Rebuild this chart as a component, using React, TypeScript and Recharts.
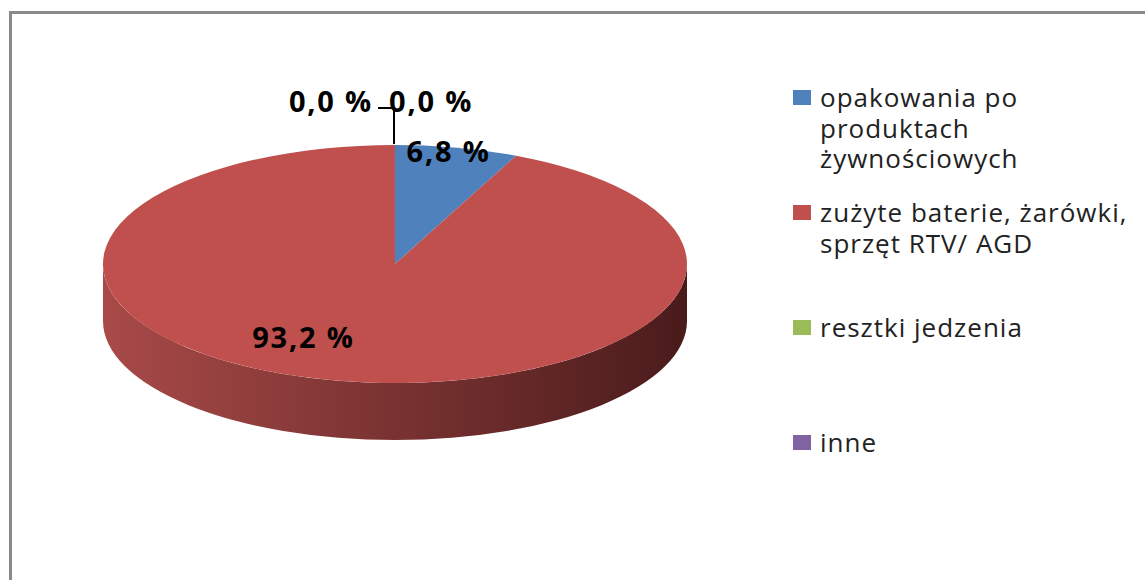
import { PieChart, Pie, Cell, Legend } from "recharts";

const CATEGORIES = [
  "opakowania po produktach żywnościowych",
  "zużyte baterie, żarówki, sprzęt RTV/ AGD",
  "resztki jedzenia",
  "inne",
];
const SHARES = [6.8, 93.2, 0, 0];

const COLORS = ["#4F81BD", "#C0504D", "#9BBB59", "#8064A2"];
const SIDE_STOPS = [
  ["#3F6A9E", "#213A57"],
  ["#A84A48", "#4A1B1B"],
  ["#7E9A48", "#3F4D24"],
  ["#68508A", "#352848"],
];

const data = CATEGORIES.map((name, i) => ({ name, value: SHARES[i] }));

// pie geometry: ellipse made from the circular pie
const CX = 395;
const CY = 264;
const RX = 292;
const RY = 119;
const TILT = RY / RX;
const DEPTH = 57;
const RAD = Math.PI / 180;

const FONT = "'Open Sans', sans-serif";

function pt(cx: number, cy: number, r: number, t: number) {
  return [cx + r * Math.cos(t), cy + r * TILT * Math.sin(t)];
}

function TopShape(props: any) {
  const { cx, cy, outerRadius: r, startAngle, endAngle, fill } = props;
  const t1 = -startAngle * RAD;
  const t2 = -endAngle * RAD;
  const span = t2 - t1;
  if (span < 1e-6) return <g />;
  if (span >= 2 * Math.PI - 1e-6) {
    return <ellipse cx={cx} cy={cy} rx={r} ry={r * TILT} fill={fill} />;
  }
  const [x1, y1] = pt(cx, cy, r, t1);
  const [x2, y2] = pt(cx, cy, r, t2);
  const d = `M${cx},${cy} L${x1},${y1} A${r},${r * TILT} 0 ${span > Math.PI ? 1 : 0} 1 ${x2},${y2} Z`;
  return <path d={d} fill={fill} />;
}

function SideShape(props: any) {
  const { cx, cy, outerRadius: r, startAngle, endAngle, index } = props;
  const t1 = -startAngle * RAD;
  const t2 = -endAngle * RAD;
  if (t2 - t1 < 1e-6) return <g />;
  const segs: number[][] = [];
  for (let k = -1; k <= 1; k++) {
    const a = Math.max(t1, 2 * Math.PI * k);
    const b = Math.min(t2, 2 * Math.PI * k + Math.PI);
    if (b - a > 1e-6) segs.push([a, b]);
  }
  const ry = r * TILT;
  return (
    <g>
      {segs.map(([a, b], i) => {
        const [x1, y1] = pt(cx, cy, r, a);
        const [x2, y2] = pt(cx, cy, r, b);
        const large = b - a > Math.PI ? 1 : 0;
        const d =
          `M${x1},${y1} A${r},${ry} 0 ${large} 1 ${x2},${y2} ` +
          `L${x2},${y2 + DEPTH} A${r},${ry} 0 ${large} 0 ${x1},${y1 + DEPTH} Z`;
        return <path key={i} d={d} fill={`url(#side${index})`} />;
      })}
    </g>
  );
}

const fmt = (v: number) => v.toFixed(1).replace(".", ",") + " %";

// label nudges (px) relative to the radial anchor
const NUDGE = [
  [-4, -5],
  [-52, -2],
];

function renderLabel(props: any) {
  const { cx, cy, outerRadius: r, midAngle, index, value } = props;
  const style = {
    fontFamily: FONT,
    fontWeight: 700,
    fontSize: 29,
    letterSpacing: 1.8,
    fill: "#000",
  };
  const topY = cy - r * TILT;
  if (value === 0) {
    if (index === 2) {
      return (
        <g>
          <text x={cx - 22} y={topY - 45} textAnchor="end" dominantBaseline="central" style={style}>
            {fmt(value)}
          </text>
          <path d={`M${cx - 17},${topY - 37} H${cx - 1} V${topY - 1}`} stroke="#000" strokeWidth={2} fill="none" />
        </g>
      );
    }
    return (
      <text x={cx - 6} y={topY - 45} textAnchor="start" dominantBaseline="central" style={style}>
        {fmt(value)}
      </text>
    );
  }
  const f = index === 0 ? 0.93 : 0.64;
  const x = cx + f * r * Math.cos(-midAngle * RAD) + NUDGE[index][0];
  const y = cy + f * r * TILT * Math.sin(-midAngle * RAD) + NUDGE[index][1];
  return (
    <text x={x} y={y} textAnchor="middle" dominantBaseline="central" style={style}>
      {fmt(value)}
    </text>
  );
}

function renderLegend(props: any) {
  const items = (props.payload ?? [])
    .filter((it: any) => it.type !== "none")
    .slice()
    .sort((a: any, b: any) => CATEGORIES.indexOf(a.value) - CATEGORIES.indexOf(b.value));
  return (
    <div style={{ fontFamily: FONT, fontSize: 26, lineHeight: "30.5px", letterSpacing: 1.0, color: "#222" }}>
      {items.map((it: any, i: number) => (
        <div key={i} style={{ display: "flex", height: 115 }}>
          <span
            style={{ width: 18, height: 15, background: it.color, marginTop: 8, marginRight: 9, flex: "none" }}
          />
          <span style={{ width: 320 }}>{it.value}</span>
        </div>
      ))}
    </div>
  );
}

export default function App() {
  return (
    <div style={{ position: "absolute", left: 0, top: 0, width: 1145, height: 580, background: "#fff", overflow: "hidden" }}>
      <div
        style={{
          position: "absolute",
          left: 9,
          top: 11,
          width: 1160,
          height: 620,
          borderTop: "3px solid #8a8a8a",
          borderLeft: "3px solid #8a8a8a",
        }}
      />
      <div style={{ position: "absolute", left: 0, top: 0 }}>
        <PieChart width={1145} height={580} margin={{ top: 0, right: 0, bottom: 0, left: 0 }}>
          <defs>
            {SIDE_STOPS.map((s, i) => (
              <linearGradient key={i} id={`side${i}`} gradientUnits="userSpaceOnUse" x1={CX - RX} x2={CX + RX} y1={0} y2={0}>
                <stop offset="0%" stopColor={s[0]} />
                <stop offset="100%" stopColor={s[1]} />
              </linearGradient>
            ))}
          </defs>
          <Pie
            data={data}
            dataKey="value"
            nameKey="name"
            cx={CX}
            cy={CY}
            outerRadius={RX}
            startAngle={90}
            endAngle={-270}
            stroke="none"
            legendType="none"
            shape={SideShape}
            isAnimationActive={false}
          >
            {data.map((_, i) => (
              <Cell key={i} fill={COLORS[i]} />
            ))}
          </Pie>
          <Pie
            data={data}
            dataKey="value"
            nameKey="name"
            cx={CX}
            cy={CY}
            outerRadius={RX}
            startAngle={90}
            endAngle={-270}
            stroke="none"
            legendType="square"
            shape={TopShape}
            label={renderLabel}
            labelLine={false}
            isAnimationActive={false}
          >
            {data.map((_, i) => (
              <Cell key={i} fill={COLORS[i]} />
            ))}
          </Pie>
          <Legend
            layout="vertical"
            content={renderLegend}
            wrapperStyle={{ left: 793, top: 82, width: 350 }}
          />
        </PieChart>
      </div>
    </div>
  );
}
